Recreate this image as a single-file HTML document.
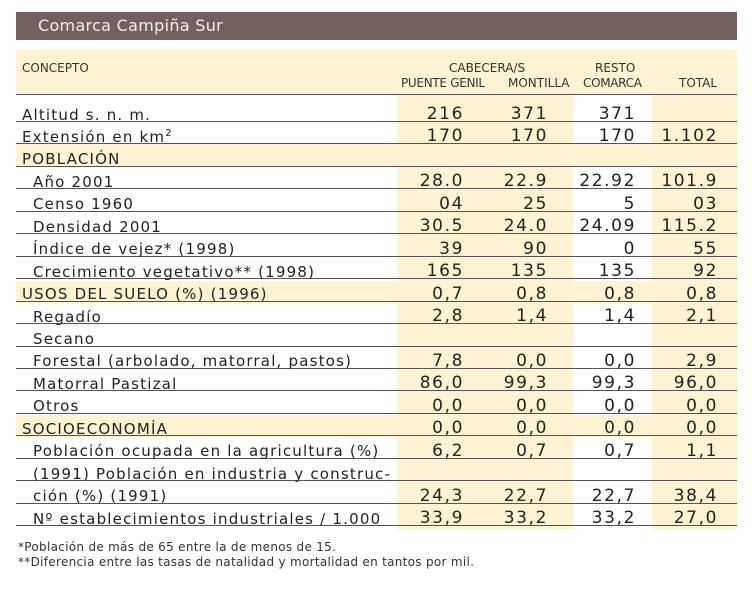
<!DOCTYPE html>
<html><head><meta charset="utf-8"><style>
body{margin:0;width:752px;height:600px;background:#fff;position:relative;overflow:hidden;font-family:"DejaVu Sans","Liberation Sans",sans-serif;color:#222}
.a{position:absolute}
.bar{left:16px;top:12px;width:721px;height:28px;background:#72615f}
.t{left:38px;top:16px;color:#f3eee9;font-size:16px;letter-spacing:0.3px}
.y{background:#fdf3d3}
.h{font-size:12px;color:#333;white-space:nowrap}
.ln{left:16px;width:721px;height:1px;background:#555}
.l{font-size:15px;letter-spacing:1.2px;white-space:nowrap;left:22px}
.s{left:33px}
.n{font-size:17px;letter-spacing:1.6px;white-space:nowrap;text-align:right;width:90px}
.f{font-size:12px;left:18px;color:#333;white-space:nowrap;letter-spacing:0.3px}
</style></head><body>
<div class="a bar"></div><div class="a t">Comarca Campiña Sur</div>
<div class="a y" style="left:16px;top:50px;width:721px;height:45px"></div>
<div class="a y" style="left:397px;top:95px;width:176px;height:434px"></div>
<div class="a y" style="left:652px;top:95px;width:85px;height:434px"></div>
<div class="a y" style="left:16px;top:144px;width:721px;height:22px"></div>
<div class="a y" style="left:16px;top:281px;width:721px;height:22px"></div>
<div class="a y" style="left:16px;top:415px;width:721px;height:22px"></div>
<div class="a h" style="left:449px;top:61px">CABECERA/S</div>
<div class="a h" style="left:22px;top:61px">CONCEPTO</div>
<div class="a h" style="left:401px;top:76px;letter-spacing:-0.3px">PUENTE GENIL</div>
<div class="a h" style="left:508px;top:76px">MONTILLA</div>
<div class="a h" style="left:595px;top:61px">RESTO</div>
<div class="a h" style="left:583px;top:76px;letter-spacing:-0.3px">COMARCA</div>
<div class="a h" style="left:679px;top:76px">TOTAL</div>
<div class="a ln" style="top:94px"></div>
<div id="rows"></div>
<script>
var R=[["Altitud s. n. m.",0,"216","371","371",""],
["Extensión en km<sup style='font-size:10px'>2</sup>",0,"170","170","170","1.102"],
["POBLACIÓN",0,"","","",""],
["Año 2001",1,"28.0","22.9","22.92","101.9"],
["Censo 1960",1,"04","25","5","03"],
["Densidad 2001",1,"30.5","24.0","24.09","115.2"],
["Índice de vejez* (1998)",1,"39","90","0","55"],
["Crecimiento vegetativo** (1998)",1,"165","135","135","92"],
["USOS DEL SUELO (%) (1996)",0,"0,7","0,8","0,8","0,8"],
["Regadío",1,"2,8","1,4","1,4","2,1"],
["Secano",1,"","","",""],
["Forestal (arbolado, matorral, pastos)",1,"7,8","0,0","0,0","2,9"],
["Matorral Pastizal",1,"86,0","99,3","99,3","96,0"],
["Otros",1,"0,0","0,0","0,0","0,0"],
["SOCIOECONOMÍA",0,"0,0","0,0","0,0","0,0"],
["Población ocupada en la agricultura (%)",1,"6,2","0,7","0,7","1,1"],
["(1991) Población en industria y construc-",1,"","","",""],
["ción (%) (1991)",1,"24,3","22,7","22,7","38,4"],
["Nº establecimientos industriales / 1.000",1,"33,9","33,2","33,2","27,0"]];
var X=[464,548,636,718],h="";
R.forEach(function(r,i){var ly=121+22.45*i;
h+='<div class="a ln" style="top:'+ly.toFixed(1)+'px"></div>';
h+='<div class="a l'+(r[1]?' s':'')+'" style="top:'+(ly-15.5).toFixed(1)+'px">'+r[0]+'</div>';
for(var k=0;k<4;k++)if(r[k+2])h+='<div class="a n" style="left:'+(X[k]-90)+'px;top:'+(ly-17).toFixed(1)+'px">'+r[k+2]+'</div>';});
document.getElementById('rows').innerHTML=h;
</script>
<div class="a f" style="top:540px">*Población de más de 65 entre la de menos de 15.</div>
<div class="a f" style="top:555px">**Diferencia entre las tasas de natalidad y mortalidad en tantos por mil.</div>
</body></html>
